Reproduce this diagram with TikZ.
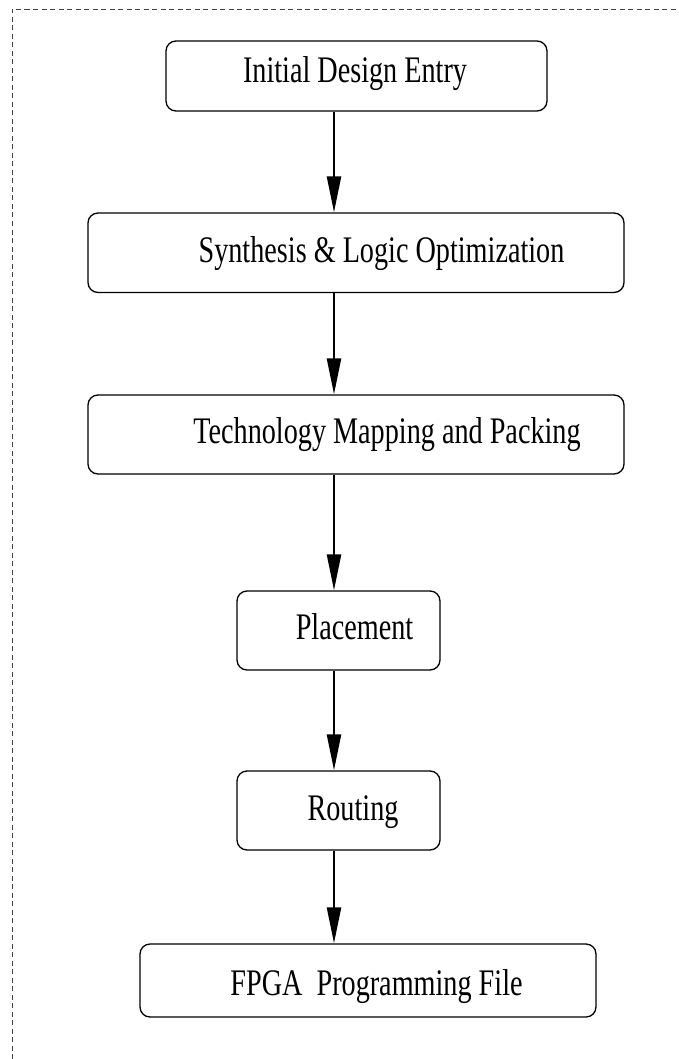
\documentclass[tikz,border=0pt]{standalone}
\usepackage{fontspec}
\setmainfont{Liberation Serif}
\usetikzlibrary{arrows.meta}

\tikzset{
  stage/.style={draw=black, line width=1.3pt, rounded corners=10pt,
                inner sep=0pt, fill=none},
  caption/.style={anchor=base, inner sep=0pt,
                  font=\fontsize{28.2}{30}\selectfont},
  flow/.style={line width=2.4pt,
               -{Triangle[length=36pt, width=14pt]}},
  frame/.style={draw=black!75, line width=0.8pt, dash pattern=on 5pt off 3.5pt}
}
\newcommand{\tallword}[1]{\scalebox{1}[1.33]{#1}}

\begin{document}
\begin{tikzpicture}[x=1pt, y=-1pt]
  \useasboundingbox (0,0) rectangle (678,1059);

  % dashed enclosure (top and left sides)
  \coordinate (fbl) at (12,1059);
  \coordinate (ftl) at (12,9);
  \coordinate (ftr) at (678,9);
  \draw[frame] (fbl) -- (ftl) -- (ftr);

  % design-flow stages
  \node[stage, minimum width=381pt, minimum height=70pt]   (b1) at (356.5,76)    {};
  \node[stage, minimum width=536pt, minimum height=79.5pt] (b2) at (356,252.75)  {};
  \node[stage, minimum width=536pt, minimum height=79pt]   (b3) at (356,434.5)   {};
  \node[stage, minimum width=203pt, minimum height=79pt]   (b4) at (338.5,630.5) {};
  \node[stage, minimum width=203pt, minimum height=79pt]   (b5) at (338.5,810.5) {};
  \node[stage, minimum width=456pt, minimum height=73pt]   (b6) at (368,980.5)   {};

  \node[caption] (t1) at (355,83)    {\tallword{Initial Design Entry}};
  \node[caption] (t2) at (381.5,262) {\tallword{Synthesis \& Logic Optimization}};
  \node[caption] (t3) at (387,443)   {\tallword{Technology Mapping and Packing}};
  \node[caption] (t4) at (354.5,639) {\tallword{Placement}};
  \node[caption] (t5) at (353,820)   {\tallword{Routing}};
  \node[caption] (t6) at (376.5,995) {\tallword{FPGA\ \ Programming File}};

  % vertical axis shared by all arrows
  \coordinate (ax) at (334,0);
  \draw[flow] (b1.south -| ax) -- (b2.north -| ax);
  \draw[flow] (b2.south -| ax) -- (b3.north -| ax);
  \draw[flow] (b3.south -| ax) -- (b4.north -| ax);
  \draw[flow] (b4.south -| ax) -- (b5.north -| ax);
  \draw[flow] (b5.south -| ax) -- (b6.north -| ax);
\end{tikzpicture}
\end{document}
